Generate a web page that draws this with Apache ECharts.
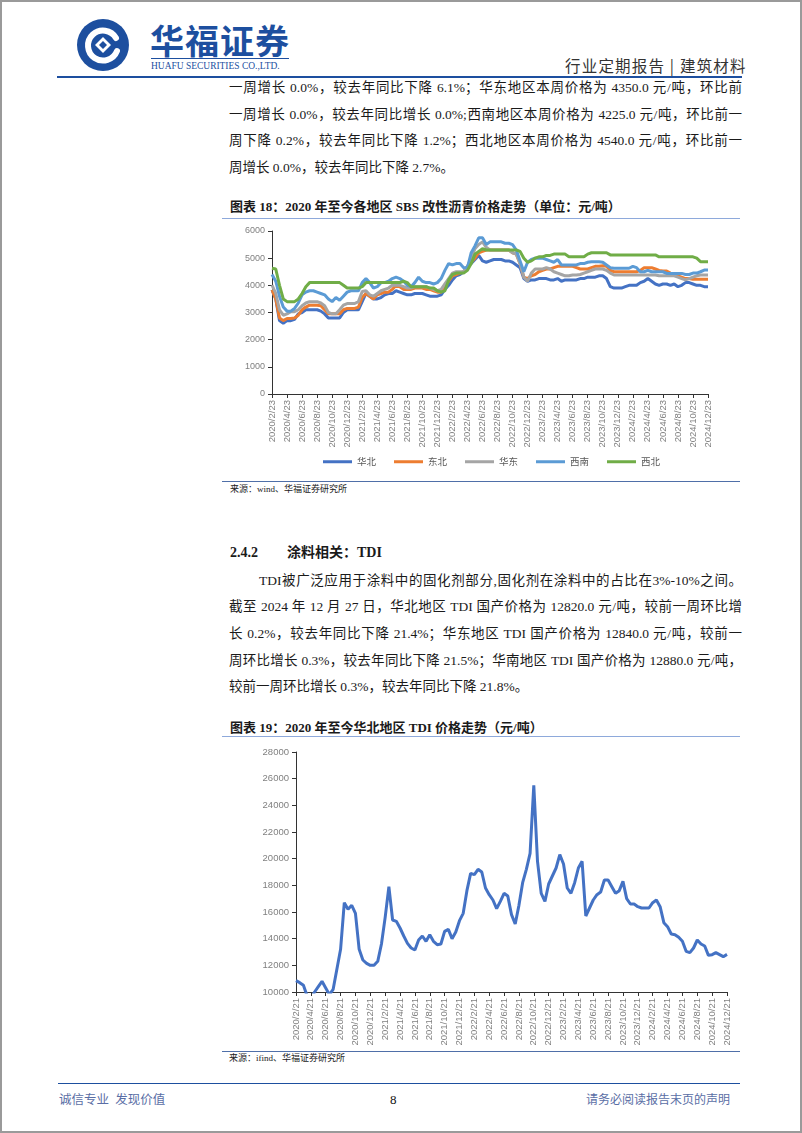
<!DOCTYPE html>
<html>
<head>
<meta charset="utf-8">
<script src="https://cdn.jsdelivr.net/npm/echarts@6/dist/echarts.min.js"></script>
<style>
  html, body { margin: 0; padding: 0; background: #fff; }
  #page { position: relative; width: 802px; height: 1133px; overflow: hidden; background: #fff; }
  #frame { position: absolute; left: 0; top: 0; width: 802px; height: 1133px; box-sizing: border-box; border: 2px solid #9a9a9a; pointer-events: none; }
  .t { position: absolute; font-family: "Liberation Serif", "Noto Sans CJK SC", serif; color: #1a1a1a; white-space: pre; }
  .line { position: absolute; font-family: "Liberation Serif", "Noto Sans CJK SC", serif; color: #1a1a1a; font-size: 13.5px; line-height: 20px; text-align: justify; text-align-last: justify; }
  .hr { position: absolute; height: 0; }
  #chart { position: absolute; left: 0; top: 0; width: 802px; height: 1133px; }
</style>
</head>
<body>
<div id="page">
  <!-- header -->
  <svg style="position:absolute;left:76px;top:18px" width="54" height="54" viewBox="0 0 54 54">
    <circle cx="27" cy="27" r="26" fill="#1d4f9f"/>
    <path d="M40 20 A15 15 0 1 0 41 33" fill="none" stroke="#fff" stroke-width="6" stroke-linecap="round"/>
    <path d="M27 19 L35 27 L27 35 L19 27 Z" fill="#fff"/>
    <path d="M27 23 L31 27 L27 31 L23 27 Z" fill="#1d4f9f"/>
  </svg>
  <div class="t" style="left:150px;top:20px;font-size:34px;line-height:40px;font-weight:bold;color:#1d4f9f;font-family:'Noto Sans CJK SC',sans-serif;letter-spacing:1px;">华福证券</div>
  <div class="hr" style="left:151px;top:58px;width:138px;border-top:1px solid #1d4f9f;"></div>
  <div class="t" style="left:151px;top:58px;font-size:11px;line-height:14px;color:#1d4f9f;transform:scaleX(0.86);transform-origin:left top;">HUAFU SECURITIES CO.,LTD.</div>
  <div class="t" style="left:565px;top:55px;font-size:15.5px;line-height:20px;color:#333;font-family:'Noto Sans CJK SC',sans-serif;letter-spacing:1.2px;">行业定期报告 | 建筑材料</div>
  <div class="hr" style="left:57px;top:76px;width:685px;border-top:2px solid #1d4f9f;"></div>

  <!-- paragraph 1 -->
  <div class="line" style="left:229px;top:78px;width:513px;">一周增长 0.0%，较去年同比下降 6.1%；华东地区本周价格为 4350.0 元/吨，环比前</div>
  <div class="line" style="left:229px;top:104.7px;width:513px;">一周增长 0.0%，较去年同比增长 0.0%;西南地区本周价格为 4225.0 元/吨，环比前一</div>
  <div class="line" style="left:229px;top:131.3px;width:513px;">周下降 0.2%，较去年同比下降 1.2%；西北地区本周价格为 4540.0 元/吨，环比前一</div>
  <div class="t" style="left:229px;top:158px;font-size:13.5px;line-height:20px;">周增长 0.0%，较去年同比下降 2.7%。</div>

  <!-- chart 18 title -->
  <div class="t" style="left:230px;top:198px;font-size:13px;line-height:18px;font-weight:bold;">图表 18：2020 年至今各地区 SBS 改性沥青价格走势（单位：元/吨）</div>
  <div class="hr" style="left:222px;top:218px;width:518px;border-top:1px solid #8ea9db;"></div>
  <div class="hr" style="left:222px;top:481px;width:518px;border-top:1px solid #4f6fa8;"></div>
  <div class="t" style="left:230px;top:483px;font-size:9px;line-height:12px;">来源：wind、华福证券研究所</div>

  <!-- section 2.4.2 -->
  <div class="t" style="left:230px;top:543px;font-size:14px;line-height:20px;font-weight:bold;">2.4.2</div>
  <div class="t" style="left:287px;top:543px;font-size:14px;line-height:20px;font-weight:bold;">涂料相关：TDI</div>
  <div class="line" style="left:259px;top:570.5px;width:483px;">TDI被广泛应用于涂料中的固化剂部分,固化剂在涂料中的占比在3%-10%之间。</div>
  <div class="line" style="left:229px;top:597.2px;width:513px;">截至 2024 年 12 月 27 日，华北地区 TDI 国产价格为 12820.0 元/吨，较前一周环比增</div>
  <div class="line" style="left:229px;top:623.9px;width:513px;">长 0.2%，较去年同比下降 21.4%；华东地区 TDI 国产价格为 12840.0 元/吨，较前一</div>
  <div class="line" style="left:229px;top:650.6px;width:513px;">周环比增长 0.3%，较去年同比下降 21.5%；华南地区 TDI 国产价格为 12880.0 元/吨，</div>
  <div class="t" style="left:229px;top:677.3px;font-size:13.5px;line-height:20px;">较前一周环比增长 0.3%，较去年同比下降 21.8%。</div>

  <!-- chart 19 title -->
  <div class="t" style="left:230px;top:719px;font-size:13px;line-height:18px;font-weight:bold;">图表 19：2020 年至今华北地区 TDI 价格走势（元/吨）</div>
  <div class="hr" style="left:222px;top:736px;width:518px;border-top:1px solid #8ea9db;"></div>
  <div class="hr" style="left:222px;top:1051px;width:518px;border-top:1px solid #4f6fa8;"></div>
  <div class="t" style="left:229px;top:1052px;font-size:9px;line-height:12px;">来源：ifind、华福证券研究所</div>

  <!-- footer -->
  <div class="hr" style="left:58px;top:1083px;width:682px;border-top:1.5px solid #1d4f9f;"></div>
  <div class="t" style="left:59px;top:1091px;font-size:12.5px;line-height:18px;color:#5a6ea5;">诚信专业  发现价值</div>
  <div class="t" style="left:390px;top:1091px;font-size:13px;line-height:18px;color:#111;">8</div>
  <div class="t" style="left:586px;top:1091px;font-size:12px;line-height:18px;color:#5a6ea5;">请务必阅读报告末页的声明</div>

  <div id="chart"></div>
  <div id="frame"></div>
</div>
<script>
// ---------- data ----------
function semiMonthly(y0, m0, dA, dB, n) {
  const out = [];
  for (let i = 0; i < n; i++) {
    const k = Math.ceil(i / 2);
    const mm = m0 - 1 + k;
    const y = y0 + Math.floor(mm / 12);
    const m = (mm % 12) + 1;
    out.push(y + '/' + m + '/' + (i % 2 === 0 ? dA : dB));
  }
  return out;
}
const sbsDates = semiMonthly(2020, 2, 23, 8, 117);
const tdiDates = semiMonthly(2020, 2, 21, 6, 117);

const sbsNames = ['华北', '东北', '华东', '西南', '西北'];

const huabei = [
  3830,3500,2700,2600,2700,2700,2750,2950,3000,3100,
  3100,3100,3100,3050,2950,2800,2800,2800,2800,3000,
  3100,3100,3100,3100,3400,3700,3600,3500,3500,3550,
  3650,3700,3700,3800,3750,3700,3650,3650,3700,3700,
  3700,3650,3600,3600,3600,3650,3850,4000,4200,4350,
  4400,4500,4700,4800,4950,5100,4900,4850,4900,4950,
  4950,4950,4900,4900,4850,4750,4650,4250,4150,4200,
  4200,4250,4250,4250,4200,4200,4250,4150,4200,4200,
  4200,4200,4250,4250,4300,4300,4300,4350,4350,4250,
  3950,3900,3900,3900,3950,4000,4000,4000,4100,4150,
  4250,4150,4050,4000,4050,4050,4000,4050,3950,4000,
  4100,4100,4050,4000,4000,3950,3950
];
const dongbei = [
  3830,3500,2800,2700,2780,2780,2800,2900,3100,3200,
  3270,3270,3270,3250,3100,2950,2950,2950,2950,3100,
  3150,3150,3150,3200,3550,3700,3600,3500,3650,3700,
  3750,3750,3850,4000,3950,3850,3850,3850,3900,3900,
  3900,3850,3850,3800,3750,3750,4000,4150,4350,4400,
  4450,4500,4650,4850,5000,5200,5250,5300,5300,5300,
  5300,5300,5300,5300,5200,5150,4800,4300,4250,4350,
  4400,4500,4550,4600,4600,4650,4700,4700,4700,4700,
  4700,4650,4600,4600,4600,4650,4700,4700,4720,4700,
  4550,4500,4500,4500,4500,4500,4500,4500,4550,4650,
  4650,4650,4600,4550,4530,4530,4450,4400,4350,4300,
  4250,4250,4220,4220,4220,4220,4220
];
const huadong = [
  4010,3700,3100,2900,2950,3030,3030,3100,3250,3350,
  3400,3400,3400,3350,3250,3000,2950,2950,3100,3270,
  3330,3330,3330,3400,3770,3800,3650,3600,3700,3800,
  3850,3900,4000,4000,4000,3950,3900,3900,3950,3950,
  3950,3950,3900,3850,3800,3850,4050,4250,4450,4500,
  4500,4500,4700,5000,5350,5500,5600,5400,5300,5300,
  5300,5300,5300,5300,5200,5150,4800,4300,4150,4450,
  4600,4600,4600,4650,4600,4500,4450,4400,4350,4350,
  4380,4380,4400,4450,4500,4550,4600,4600,4600,4550,
  4450,4380,4380,4380,4380,4380,4380,4380,4380,4380,
  4380,4380,4380,4350,4350,4350,4350,4350,4300,4250,
  4200,4250,4300,4350,4380,4380,4380
];
const xinan = [
  4400,4150,3600,3200,3050,3050,3150,3350,3650,3750,
  3800,3800,3750,3700,3650,3500,3400,3550,3450,3600,
  3750,3800,3800,3800,4100,4250,4100,3900,3950,4100,
  4100,4150,4250,4300,4250,4150,4000,3950,4100,4300,
  4150,4100,4100,4050,4100,4250,4550,4800,4750,4800,
  4800,4650,4650,5200,5450,5750,5750,5500,5600,5600,
  5600,5600,5550,5550,5500,5300,4900,4500,4850,4950,
  5000,5000,5000,4950,4900,4850,4950,4750,4750,4750,
  4750,4750,4800,4800,4850,4870,4870,4870,4850,4750,
  4650,4630,4630,4630,4630,4630,4700,4650,4500,4500,
  4550,4500,4500,4500,4500,4440,4440,4440,4440,4440,
  4400,4400,4450,4450,4500,4560,4560
];
const xibei = [
  4630,4600,4000,3500,3400,3400,3400,3500,3700,3950,
  4100,4100,4100,4100,4100,4100,4100,4100,4100,4000,
  3900,3900,3900,3900,3950,4100,4100,4100,4100,4100,
  4100,4100,4100,4100,4100,4150,4100,3950,3950,3950,
  3950,3950,3900,3900,3800,3750,3800,4200,4400,4450,
  4450,4450,4550,4800,5150,5250,5350,5300,5300,5300,
  5300,5300,5300,5300,5300,5300,5250,5000,4850,4900,
  5000,5050,5050,5100,5100,5150,5150,5150,5150,5050,
  5050,5050,5050,5050,5150,5200,5200,5200,5200,5200,
  5120,5120,5120,5120,5120,5120,5120,5120,5120,5120,
  5120,5120,5120,5050,5050,5050,5050,5050,5050,5050,
  5050,5050,5050,5000,4870,4870,4870
];

const tdiHuabei = [
  10850,10700,10500,9700,9500,10000,10400,10800,10300,9800,
  10200,11700,13200,16700,16200,16500,15900,13200,12400,12150,
  12000,12000,12300,13600,15600,17900,15400,15300,14800,14200,
  13650,13300,13150,13900,14200,13800,14300,13800,13550,13600,
  14550,14700,14000,14500,15350,15900,17600,18900,18800,19200,
  19000,17800,17300,16900,16250,16800,17400,17200,15800,15100,
  16500,18200,19200,20400,25500,19800,17400,16800,18100,18700,
  19300,20300,19600,17800,17400,18200,19300,19800,15700,16300,
  16900,17300,17500,18400,18400,17900,17400,17600,18300,17000,
  16600,16600,16400,16300,16300,16300,16700,16900,16400,15200,
  14900,14350,14300,14100,13800,13050,12950,13300,13900,13600,
  13450,12750,12800,12950,12800,12650,12820
];

// axis ranges / tick labels
const sbsY = { min: 0, max: 6000, step: 1000 };
const tdiY = { min: 10000, max: 28000, step: 2000 };

const sbsColors = ['#4472C4', '#ED7D31', '#A5A5A5', '#5B9BD5', '#70AD47'];
const sbsSeriesData = [huabei, dongbei, huadong, xinan, xibei];

// ---------- chart ----------
const chart = echarts.init(document.getElementById('chart'), null, { renderer: 'canvas' });
const labelFont = 'Liberation Sans, Arial, sans-serif';

function xAxisCfg(grid, data, fs) {
  return {
    type: 'category', gridIndex: grid, data: data, boundaryGap: false,
    axisLine: { show: true, lineStyle: { color: '#333', width: 1 } },
    axisTick: { show: true, interval: 3, length: 4, lineStyle: { color: '#333' } },
    axisLabel: { interval: 3, rotate: 90, fontSize: fs, color: '#808080', margin: 6, fontFamily: labelFont },
    splitLine: { show: false }
  };
}
function yAxisCfg(grid, r, fs, margin) {
  return {
    type: 'value', gridIndex: grid, min: r.min, max: r.max, interval: r.step,
    axisLine: { show: true, lineStyle: { color: '#333', width: 1 } },
    axisTick: { show: true, length: 4, lineStyle: { color: '#333' } },
    axisLabel: { fontSize: fs, color: '#808080', margin: margin, fontFamily: labelFont,
                 formatter: function (v) { return String(v); } },
    splitLine: { show: false }
  };
}

const series = sbsNames.map((n, k) => ({
  name: n, type: 'line', xAxisIndex: 0, yAxisIndex: 0,
  data: sbsSeriesData[k], symbol: 'none', smooth: false,
  lineStyle: { width: 3, color: sbsColors[k] }, itemStyle: { color: sbsColors[k] }
}));
series.push({
  name: 'TDI华北', type: 'line', xAxisIndex: 1, yAxisIndex: 1,
  data: tdiHuabei, symbol: 'none', smooth: false, clip: true,
  lineStyle: { width: 3, color: '#4472C4' }, itemStyle: { color: '#4472C4' }
});

chart.setOption({
  animation: false,
  grid: [
    { left: 272, top: 231, width: 436, height: 163 },
    { left: 296, top: 752, width: 431, height: 240 }
  ],
  xAxis: [xAxisCfg(0, sbsDates, 9.5), xAxisCfg(1, tdiDates, 9.5)],
  yAxis: [yAxisCfg(0, sbsY, 9, 7), yAxisCfg(1, tdiY, 9.5, 7)],
  legend: {
    data: sbsNames, left: 318, top: 452, itemWidth: 29, itemHeight: 3, itemGap: 18,
    icon: 'rect', textStyle: { fontSize: 9.5, color: '#595959', fontFamily: 'Noto Sans CJK SC' }
  },
  series: series
});
</script>
</body>
</html>
